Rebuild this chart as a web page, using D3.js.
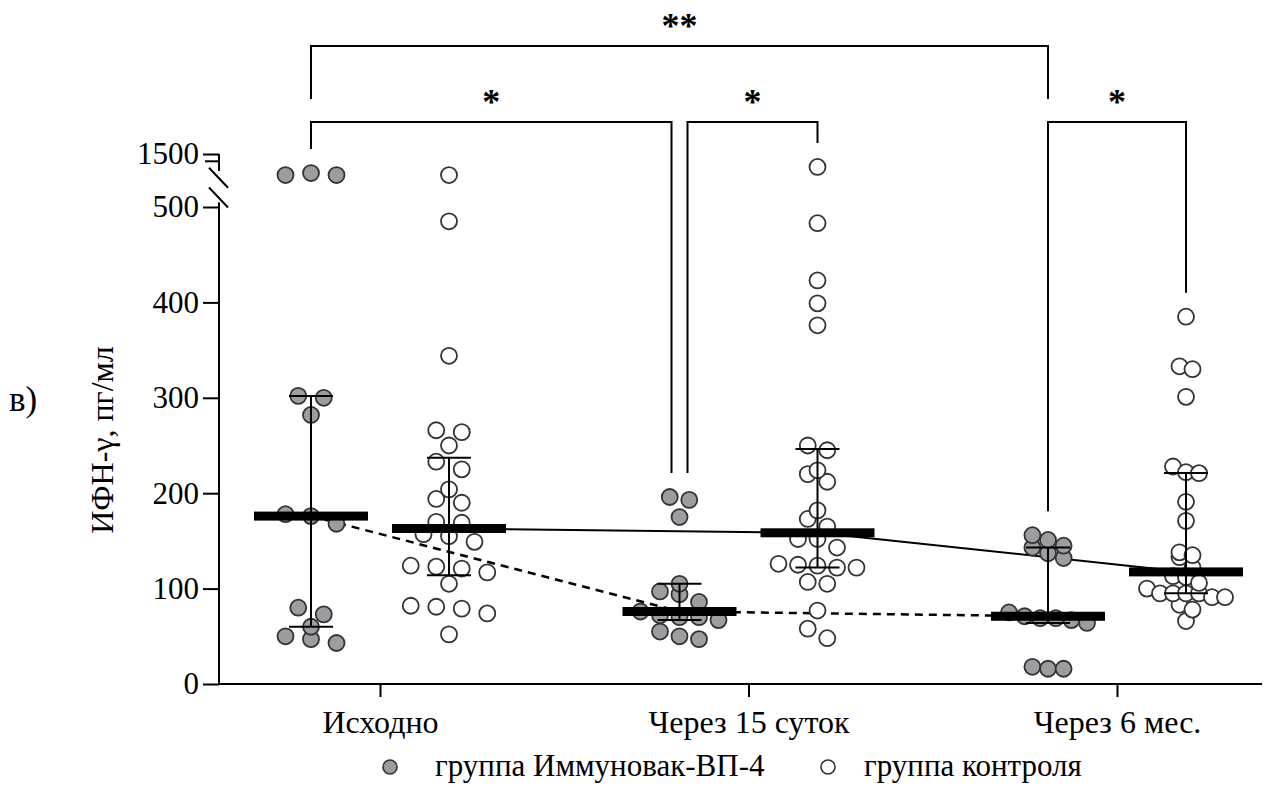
<!DOCTYPE html>
<html>
<head>
<meta charset="utf-8">
<script src="https://cdn.jsdelivr.net/npm/d3@7"></script>
<style>
  body { margin: 0; background: #fff; }
  svg text { font-family: "Liberation Serif", "Times New Roman", Times, "DejaVu Serif", serif; fill: #000; }
</style>
</head>
<body>
<svg id="chart" width="1266" height="787"></svg>
<script>
// Time points and study groups
const timepoints = ["Исходно", "Через 15 суток", "Через 6 мес."];
const groups = ["группа Иммуновак-ВП-4", "группа контроля"];

// Individual IFN-γ concentrations, pg/ml
const vaccineBaseline = [1190, 1220, 1190, 302, 300, 282, 178, 176, 168, 80, 73, 60, 50, 47, 43];
const vaccineDay15    = [196, 193, 175, 105, 97, 94, 86, 76, 72, 70, 70, 67, 55, 50, 47];
const vaccineMonth6   = [156, 151, 145, 143, 137, 132, 75, 71, 69, 69, 67, 64, 18, 16, 16];
const controlBaseline = [1190, 485, 344, 266, 264, 250, 233, 225, 204, 194, 190, 170, 169, 157, 155, 149, 124, 123, 121, 117, 105, 82, 81, 79, 74, 52];
const controlDay15    = [1310, 483, 423, 399, 376, 250, 245, 224, 220, 212, 182, 173, 165, 152, 152, 143, 126, 125, 124, 122, 122, 107, 105, 77, 58, 48];
const controlMonth6   = [385, 333, 330, 301, 228, 222, 221, 191, 171, 138, 135, 133, 122, 113, 112, 106, 100, 95, 95, 95, 95, 91, 91, 83, 78, 66];

// Y axis ticks (lower and upper segment of the broken axis)
const lowerTicks = [0, 100, 200, 300, 400, 500];
const upperTicks = [1500];
const upperMinorTicks = [1400];

// Significance marks: [time index, group index] pairs
const comparisons = [
  { a: [0, 0], b: [2, 0], label: "**", level: 2 },
  { a: [0, 0], b: [1, 0], label: "*",  level: 1, nudgeB: -8 },
  { a: [1, 0], b: [1, 1], label: "*",  level: 1, nudgeA: 8 },
  { a: [2, 0], b: [2, 1], label: "*",  level: 1 }
];

const seriesValues = [
  [vaccineBaseline, controlBaseline],
  [vaccineDay15, controlDay15],
  [vaccineMonth6, controlMonth6]
];

const FONT = '"Liberation Serif", "Times New Roman", Times, "DejaVu Serif", serif';
const svg = d3.select("#chart");

// Scales
const x = d3.scalePoint().domain(timepoints).range([380, 1117]);
const sub = d3.scalePoint().domain(groups).range([-69, 69]);
const yLow = d3.scaleLinear().domain([0, 500]).range([684, 207]);
const yHigh = d3.scaleLinear().domain([1000, 1500]).range([188, 154]);
const BREAK = 520;
const y = v => (v > BREAK ? yHigh(v) : yLow(v));
const axisX = 219;
const plotRight = 1262;

// Quartiles computed at position (n+1)p
function quart(sorted, p) {
  const pos = (sorted.length + 1) * p;
  const i = Math.floor(pos), f = pos - i;
  if (i < 1) return sorted[0];
  if (i >= sorted.length) return sorted[sorted.length - 1];
  return sorted[i - 1] + f * (sorted[i] - sorted[i - 1]);
}

// Build series table
const series = [];
timepoints.forEach((t, ti) => {
  groups.forEach((g, gi) => {
    const vals = seriesValues[ti][gi];
    const s = vals.slice().sort((p, q) => p - q);
    series.push({
      t, g, ti, gi, vals,
      cx: x(t) + sub(g),
      median: quart(s, 0.5), q1: quart(s, 0.25), q3: quart(s, 0.75),
      max: s[s.length - 1]
    });
  });
});
const find = (ti, gi) => series.find(d => d.ti === ti && d.gi === gi);

// Scatter layout: points with close values share a row; rows are spread
// symmetrically, with one spacing per column limited by the widest row.
const R = 8, ROW_H = 11, MAX_STEP = 25.5, MAX_WIDTH = 78;
function scatterRows(vals, cx) {
  const pts = vals.map((v, i) => ({ v, i, py: y(v) })).sort((a, b) => b.py - a.py || a.i - b.i);
  const rows = [];
  pts.forEach(p => {
    const last = rows[rows.length - 1];
    if (last && last[0].py - p.py < ROW_H) last.push(p); else rows.push([p]);
  });
  const widest = d3.max(rows, r => r.length);
  const step = widest > 1 ? Math.min(MAX_STEP, MAX_WIDTH / (widest - 1)) : MAX_STEP;
  const out = [];
  rows.forEach(r => {
    r.sort((a, b) => a.i - b.i);
    r.forEach((p, k) => out.push({ v: p.v, py: p.py, px: cx + (k - (r.length - 1) / 2) * step }));
  });
  return out;
}

// ----- Axes -----
const gy = svg.append("g");
gy.append("g")
  .attr("transform", `translate(${axisX},0)`)
  .call(d3.axisLeft(yLow).tickValues(lowerTicks).tickSize(16).tickPadding(4))
  .call(g => g.select(".domain").remove());
gy.append("g")
  .attr("transform", `translate(${axisX},0)`)
  .call(d3.axisLeft(yHigh).tickValues(upperTicks).tickSize(16).tickPadding(4).tickFormat(d3.format("d")))
  .call(g => g.select(".domain").remove());
gy.append("g")
  .attr("transform", `translate(${axisX},0)`)
  .call(d3.axisLeft(yHigh).tickValues(upperMinorTicks).tickSize(14).tickFormat(""))
  .call(g => g.select(".domain").remove());
gy.selectAll("g").attr("font-family", null).attr("font-size", null);
gy.selectAll("text").style("font-family", FONT).style("font-size", "31px");
gy.selectAll("line").attr("stroke", "#000").attr("stroke-width", 2);

// axis lines with break marks
gy.append("line").attr("x1", axisX).attr("x2", axisX).attr("y1", yLow(0)).attr("y2", yLow(505))
  .attr("stroke", "#000").attr("stroke-width", 2);
gy.append("line").attr("x1", axisX).attr("x2", axisX).attr("y1", yHigh(1500)).attr("y2", yHigh(1250))
  .attr("stroke", "#000").attr("stroke-width", 2);
[yHigh(1150), yLow(510)].forEach(cy => {
  gy.append("line").attr("x1", axisX - 10).attr("x2", axisX + 9).attr("y1", cy - 10).attr("y2", cy + 10)
    .attr("stroke", "#000").attr("stroke-width", 2);
});

// X axis
const gx = svg.append("g").attr("transform", `translate(0,${yLow(0)})`);
gx.append("line").attr("x1", axisX).attr("x2", plotRight).attr("stroke", "#000").attr("stroke-width", 2);
gx.call(d3.axisBottom(x).tickSize(13).tickPadding(13))
  .call(g => g.select(".domain").remove());
gx.attr("font-family", null).attr("font-size", null);
gx.selectAll("text").style("font-family", FONT).style("font-size", "32px");
gx.selectAll("line").attr("stroke", "#000").attr("stroke-width", 2);

// Axis title and panel letter
svg.append("text")
  .attr("transform", `translate(113,440) rotate(-90)`)
  .attr("text-anchor", "middle")
  .style("font-family", FONT).style("font-size", "32px")
  .text("ИФН-γ, пг/мл");
svg.append("text").attr("x", 9).attr("y", 411)
  .style("font-family", FONT).style("font-size", "35px").text("в)");

// ----- Median connecting lines -----
const line = d3.line().x(d => d.cx).y(d => y(d.median));
groups.forEach((g, gi) => {
  svg.append("path")
    .datum(series.filter(d => d.gi === gi))
    .attr("d", line)
    .attr("fill", "none")
    .attr("stroke", "#000")
    .attr("stroke-width", gi === 0 ? 2.5 : 2)
    .attr("stroke-dasharray", gi === 0 ? "8,6" : null);
});

// ----- Points -----
const fills = ["#9d9da1", "#ffffff"];
series.forEach(s => {
  svg.append("g").selectAll("circle")
    .data(scatterRows(s.vals, s.cx))
    .join("circle")
    .attr("cx", d => d.px).attr("cy", d => d.py).attr("r", R)
    .attr("fill", fills[s.gi])
    .attr("stroke", "#333")
    .attr("stroke-width", 1.8);
});

// ----- Interquartile range bars and medians -----
series.forEach(s => {
  const g = svg.append("g");
  g.append("line").attr("x1", s.cx).attr("x2", s.cx).attr("y1", y(s.q1)).attr("y2", y(s.q3))
    .attr("stroke", "#000").attr("stroke-width", 2);
  [s.q1, s.q3].forEach(v => {
    g.append("line").attr("x1", s.cx - 22).attr("x2", s.cx + 22).attr("y1", y(v)).attr("y2", y(v))
      .attr("stroke", "#000").attr("stroke-width", 2);
  });
  g.append("rect").attr("x", s.cx - 57).attr("width", 114)
    .attr("y", y(s.median) - 4.5).attr("height", 9).attr("fill", "#000");
});

// ----- Significance brackets -----
const levelY = { 1: 122, 2: 46 };
comparisons.forEach(c => {
  const A = find(...c.a), B = find(...c.b);
  const xa = A.cx + (c.nudgeA || 0), xb = B.cx + (c.nudgeB || 0);
  const top = levelY[c.level];
  const endA = c.level === 1 ? y(A.max) - 24 : levelY[1] - 23;
  const endB = c.level === 1 ? y(B.max) - 24 : levelY[1] - 23;
  svg.append("path")
    .attr("d", `M${xa},${endA}V${top}H${xb}V${endB}`)
    .attr("fill", "none").attr("stroke", "#000").attr("stroke-width", 2);
  svg.append("text")
    .attr("x", (xa + xb) / 2).attr("y", top - 8)
    .attr("text-anchor", "middle")
    .style("font-family", FONT).style("font-size", "36px").style("font-weight", "bold")
    .text(c.label);
});

// ----- Legend -----
const legend = svg.append("g").attr("transform", "translate(0,767)");
const legendX = [390, 828];
groups.forEach((g, gi) => {
  legend.append("circle").attr("cx", legendX[gi]).attr("cy", 0).attr("r", 7)
    .attr("fill", fills[gi]).attr("stroke", "#333").attr("stroke-width", 1.6);
  legend.append("text").attr("x", legendX[gi] + (gi === 0 ? 45 : 36)).attr("y", 9)
    .style("font-family", FONT).style("font-size", "31px").text(g);
});
</script>
</body>
</html>
